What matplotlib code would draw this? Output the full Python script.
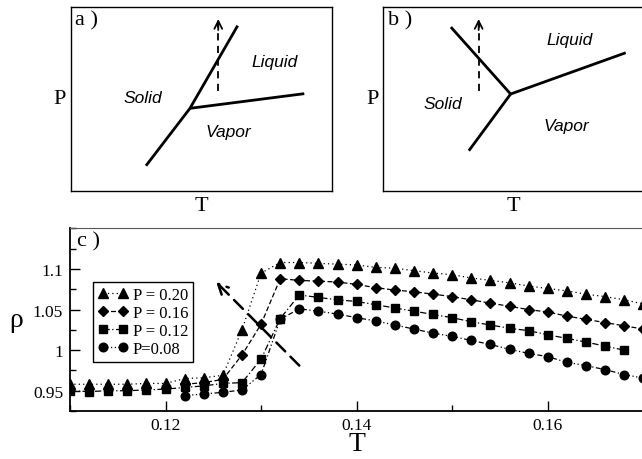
import matplotlib
matplotlib.use("Agg")
import matplotlib.pyplot as plt
from matplotlib.ticker import FixedLocator, FixedFormatter, MultipleLocator

# ---------------- data (panel c) ----------------
T_020 = [0.110, 0.112, 0.114, 0.116, 0.118, 0.120, 0.122, 0.124, 0.126, 0.128,
         0.130, 0.132, 0.134, 0.136, 0.138, 0.140, 0.142, 0.144, 0.146, 0.148,
         0.150, 0.152, 0.154, 0.156, 0.158, 0.160, 0.162, 0.164, 0.166, 0.168, 0.170]
rho_020 = [0.958, 0.958, 0.958, 0.958, 0.959, 0.959, 0.965, 0.966, 0.969, 1.025,
           1.095, 1.108, 1.108, 1.107, 1.106, 1.105, 1.102, 1.101, 1.098, 1.095,
           1.093, 1.089, 1.086, 1.083, 1.079, 1.076, 1.073, 1.069, 1.066, 1.062, 1.057]

T_016 = [0.122, 0.124, 0.126, 0.128, 0.130, 0.132, 0.134, 0.136, 0.138, 0.140,
         0.142, 0.144, 0.146, 0.148, 0.150, 0.152, 0.154, 0.156, 0.158, 0.160,
         0.162, 0.164, 0.166, 0.168, 0.170]
rho_016 = [0.958, 0.960, 0.964, 0.994, 1.032, 1.088, 1.086, 1.085, 1.084, 1.081,
           1.077, 1.074, 1.072, 1.069, 1.066, 1.062, 1.058, 1.054, 1.050, 1.047,
           1.042, 1.038, 1.034, 1.030, 1.026]

T_012 = [0.110, 0.112, 0.114, 0.116, 0.118, 0.120, 0.122, 0.124, 0.126, 0.128,
         0.130, 0.132, 0.134, 0.136, 0.138, 0.140, 0.142, 0.144, 0.146, 0.148,
         0.150, 0.152, 0.154, 0.156, 0.158, 0.160, 0.162, 0.164, 0.166, 0.168]
rho_012 = [0.950, 0.949, 0.950, 0.950, 0.951, 0.952, 0.954, 0.956, 0.959, 0.960,
           0.989, 1.039, 1.068, 1.065, 1.062, 1.060, 1.056, 1.052, 1.048, 1.044,
           1.040, 1.035, 1.031, 1.027, 1.024, 1.019, 1.0145, 1.010, 1.005, 1.000]

T_008 = [0.122, 0.124, 0.126, 0.128, 0.130, 0.132, 0.134, 0.136, 0.138, 0.140,
         0.142, 0.144, 0.146, 0.148, 0.150, 0.152, 0.154, 0.156, 0.158, 0.160,
         0.162, 0.164, 0.166, 0.168, 0.170]
rho_008 = [0.944, 0.946, 0.948, 0.951, 0.970, 1.038, 1.051, 1.048, 1.0445, 1.040,
           1.036, 1.031, 1.026, 1.021, 1.017, 1.012, 1.007, 1.001, 0.996, 0.992,
           0.985, 0.981, 0.976, 0.970, 0.9655]

labels = ["P = 0.20", "P = 0.16", "P = 0.12", "P=0.08"]

x_ticks = [0.12, 0.14, 0.16]
x_ticklabels = ["0.12", "0.14", "0.16"]
y_ticks = [0.95, 1.0, 1.05, 1.1]
y_ticklabels = ["0.95", "1", "1.05", "1.1"]

# arrow in panel c (tail, head) in data units
arrow_c_T = [0.1340, 0.1253]
arrow_c_rho = [0.981, 1.084]

# ---------------- schematic phase diagrams (axes fraction) ----------------
a_solid_liq_x = [0.2885, 0.457, 0.640]
a_solid_liq_y = [0.136, 0.449, 0.900]
a_liq_vap_x = [0.457, 0.895]
a_liq_vap_y = [0.449, 0.529]
a_arrow_x = [0.5655, 0.5655]
a_arrow_y = [0.545, 0.936]
a_text = {"Solid": (0.276, 0.509), "Liquid": (0.783, 0.707), "Vapor": (0.603, 0.320)}

b_triple = (0.488, 0.527)
b_ends_x = [0.259, 0.328, 0.929]
b_ends_y = [0.892, 0.218, 0.752]
b_arrow_x = [0.3655, 0.3655]
b_arrow_y = [0.545, 0.936]
b_text = {"Solid": (0.230, 0.478), "Liquid": (0.715, 0.822), "Vapor": (0.703, 0.358)}

SERIF = "Liberation Serif"
SANS = "Liberation Sans"

fig = plt.figure(figsize=(6.42, 4.60), dpi=100)

def schematic(ax, letter, xs_list, ys_list, arr_x, arr_y, texts):
    ax.set_xlim(0, 1)
    ax.set_ylim(0, 1)
    ax.set_xticks([])
    ax.set_yticks([])
    for s in ax.spines.values():
        s.set_linewidth(1.0)
    for xs, ys in zip(xs_list, ys_list):
        ax.plot(xs, ys, color="black", lw=2.0, solid_capstyle="butt")
    ax.plot(arr_x, [arr_y[0], arr_y[1] - 0.02], color="black", lw=1.3,
            linestyle=(0, (4, 3)))
    ax.annotate("", xy=(arr_x[1], arr_y[1]), xytext=(arr_x[0], arr_y[1] - 0.06),
                arrowprops=dict(arrowstyle="->", lw=1.3, color="black",
                                mutation_scale=14, shrinkA=0, shrinkB=0))
    for k, (tx, ty) in texts.items():
        ax.text(tx, ty, k, ha="center", va="center", fontsize=12.5,
                family=SANS, style="italic")
    ax.text(0.018, 0.985, letter, ha="left", va="top", fontsize=16,
            family=SERIF)
    ax.set_xlabel("T", family=SERIF, fontsize=16, labelpad=4)
    ax.set_ylabel("P", family=SERIF, fontsize=16, rotation=0, labelpad=8,
                  va="center")

ax_a = fig.add_axes([0.1101, 0.5833, 0.4065, 0.3987])
schematic(ax_a, "a )",
          [a_solid_liq_x, a_liq_vap_x], [a_solid_liq_y, a_liq_vap_y],
          a_arrow_x, a_arrow_y, a_text)

ax_b = fig.add_axes([0.5970, 0.5833, 0.4065, 0.3987])
b_lines_x = [[b_triple[0], ex] for ex in b_ends_x]
b_lines_y = [[b_triple[1], ey] for ey in b_ends_y]
schematic(ax_b, "b )", b_lines_x, b_lines_y, b_arrow_x, b_arrow_y, b_text)

# ---------------- panel c ----------------
ax = fig.add_axes([0.1090, 0.1043, 0.8930, 0.3978])
series = [
    (T_020, rho_020, "^", 6.5, (0, (1, 2.5))),
    (T_016, rho_016, "D", 4.8, (0, (4, 2))),
    (T_012, rho_012, "s", 5.6, (0, (5, 2, 1, 2))),
    (T_008, rho_008, "o", 6.2, (0, (4, 2, 1, 2, 1, 2))),
]
for (xs, ys, m, ms, ls), lab in zip(series, labels):
    ax.plot(xs, ys, color="black", lw=0.9, linestyle=ls, marker=m,
            markersize=ms, markerfacecolor="black", markeredgecolor="black",
            label=lab, clip_on=True)

ax.annotate("", xy=(arrow_c_T[1], arrow_c_rho[1]),
            xytext=(arrow_c_T[0], arrow_c_rho[0]),
            arrowprops=dict(arrowstyle="->", lw=1.8, color="black",
                            linestyle=(0, (5, 3)), mutation_scale=18,
                            shrinkA=0, shrinkB=0))

ax.set_xlim(0.110, 0.170)
ax.set_ylim(0.925, 1.1505)
ax.xaxis.set_major_locator(FixedLocator(x_ticks))
ax.xaxis.set_major_formatter(FixedFormatter(x_ticklabels))
ax.xaxis.set_minor_locator(MultipleLocator(0.01))
ax.yaxis.set_major_locator(FixedLocator(y_ticks))
ax.yaxis.set_major_formatter(FixedFormatter(y_ticklabels))
ax.yaxis.set_minor_locator(MultipleLocator(0.025))
ax.tick_params(which="both", direction="in", top=False, right=False,
               labelsize=12.5, width=1.0)
ax.tick_params(which="major", length=7, pad=5)
ax.tick_params(axis="x", which="major", pad=4)
ax.tick_params(which="minor", length=4)
for lab in ax.get_xticklabels() + ax.get_yticklabels():
    lab.set_family(SERIF)
ax.spines["left"].set_linewidth(1.3)
ax.spines["bottom"].set_linewidth(1.3)
ax.spines["top"].set_color("#555555")

ax.set_xlabel("T", family=SERIF, fontsize=20, labelpad=-1)
ax.set_ylabel("ρ", family=SERIF, fontsize=20, rotation=0, labelpad=12,
              va="center")
ax.text(0.012, 0.985, "c )", transform=ax.transAxes, ha="left", va="top",
        fontsize=16, family=SERIF)

leg = ax.legend(loc="upper left", bbox_to_anchor=(0.040, 0.705),
                borderaxespad=0, numpoints=2, handlelength=1.8,
                handletextpad=0.3, labelspacing=0.12, borderpad=0.3,
                fancybox=False, framealpha=1, edgecolor="black",
                prop={"family": SERIF, "size": 12})
leg.get_frame().set_linewidth(1.0)

fig.savefig("out.png", dpi=100)
